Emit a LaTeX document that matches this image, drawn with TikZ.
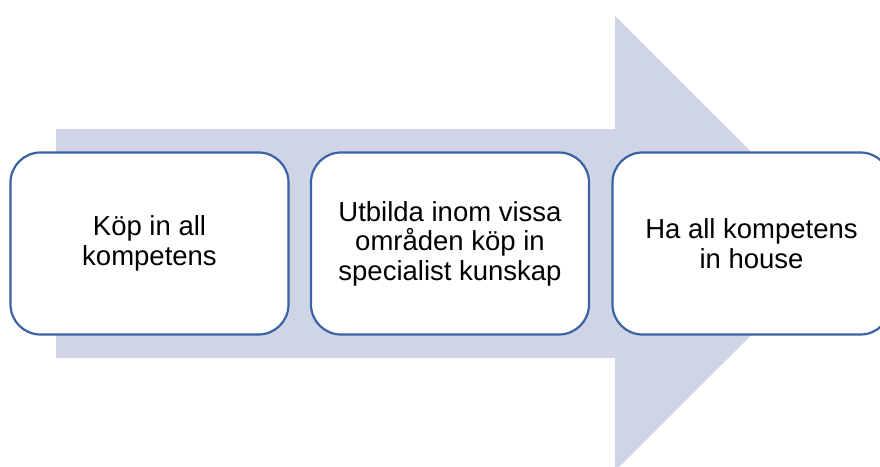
\documentclass[tikz,border=0pt]{standalone}
\usepackage{fontspec}
\setmainfont{Liberation Sans}
\definecolor{arrowfill}{RGB}{207,213,230}
\definecolor{boxline}{RGB}{58,98,165}
\begin{document}
\begin{tikzpicture}[x=1pt,y=-1pt,
  stage/.style={draw=boxline, line width=2.2pt, fill=white, rounded corners=30pt,
    minimum width=278pt, minimum height=182pt, align=center,
    font=\fontsize{27.5pt}{29.5pt}\selectfont, inner sep=0pt}]
  \useasboundingbox (0,0) rectangle (880,466);
  \clip (0,0) rectangle (880,466);
  % broad background arrow
  \fill[arrowfill] (56,129) -- (615,129) -- (615,16) -- (843,243.5)
    -- (615,471) -- (615,358) -- (56,358) -- cycle;
  % the three stages
  \node[stage] (s1) at (149.5,243.5) {Köp in all\\kompetens};
  \node[stage] (s2) at (450,243.5) {Utbilda inom vissa\\områden köp in\\specialist kunskap};
  \node[stage] (s3) at (751.5,243.5) {Ha all kompetens\\in house};
\end{tikzpicture}
\end{document}
